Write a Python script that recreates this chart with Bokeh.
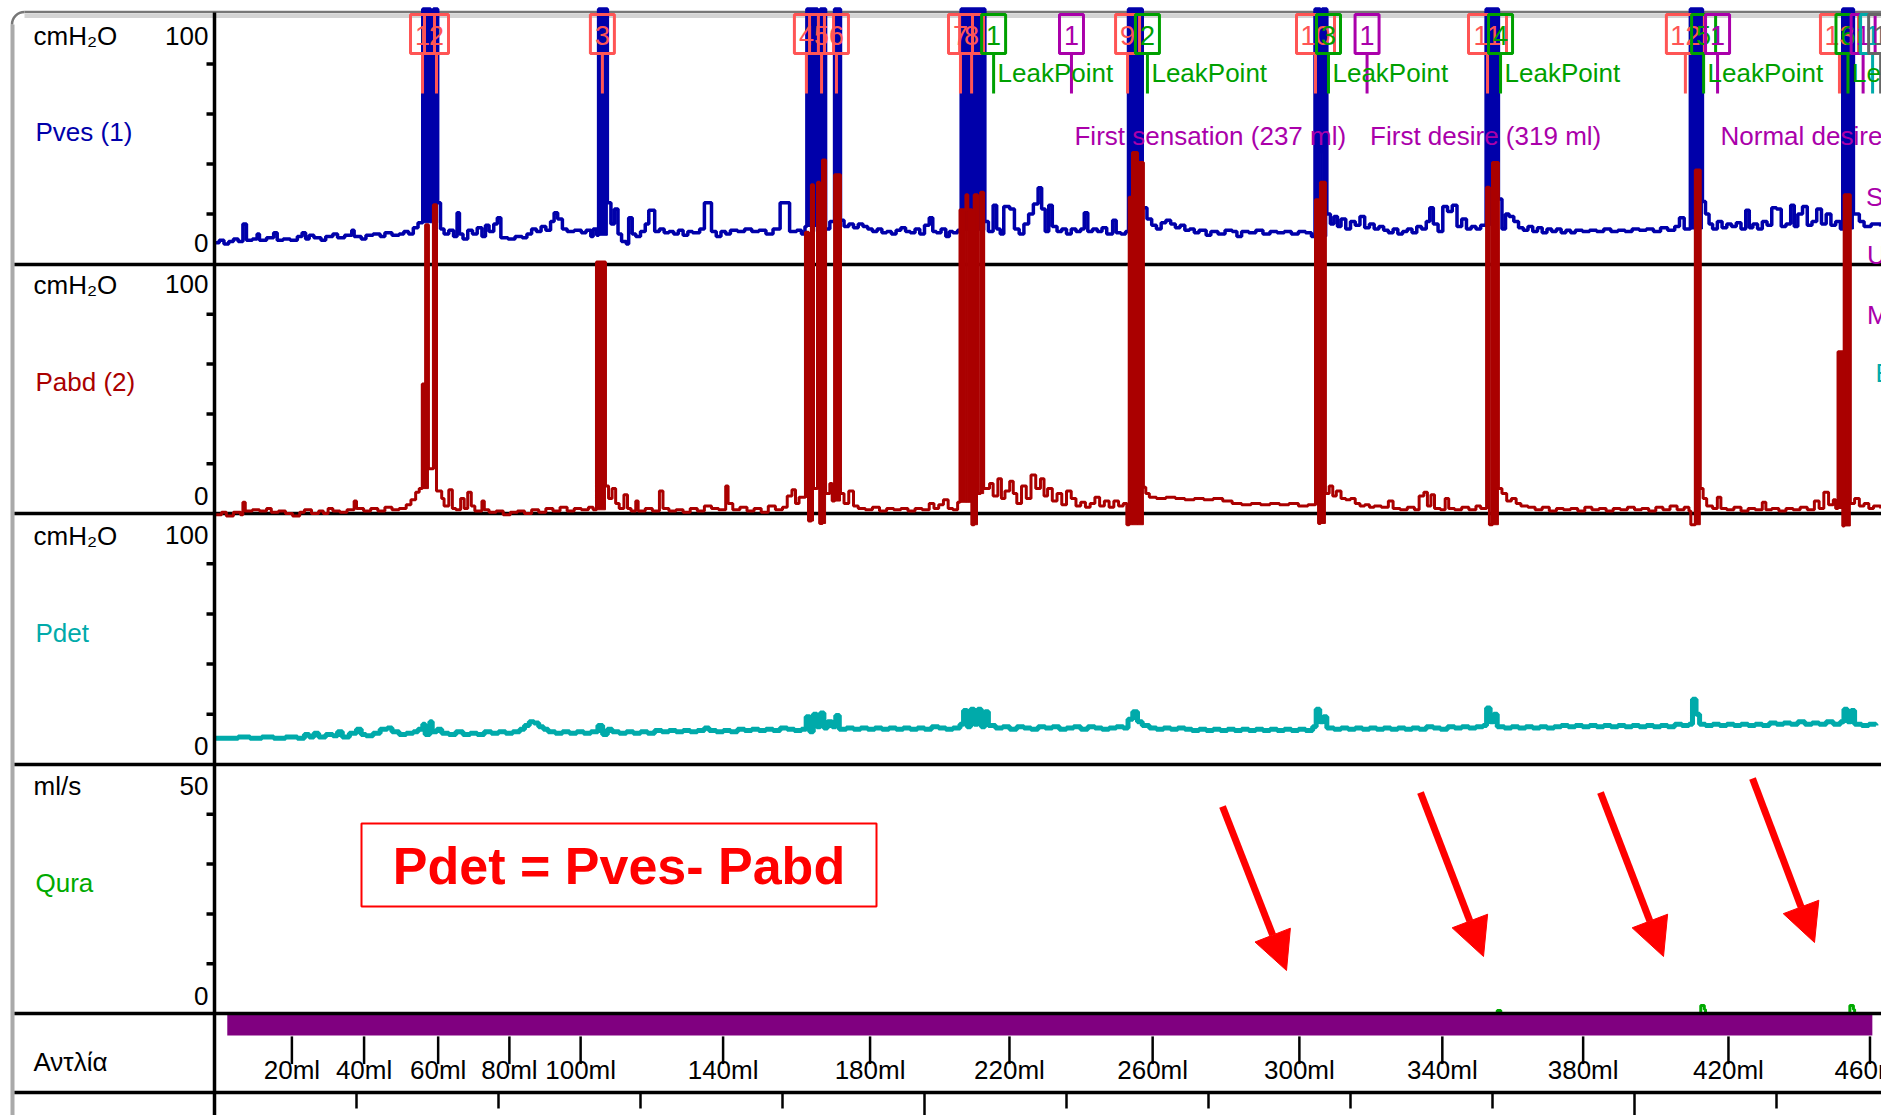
from math import pi
from bokeh.plotting import figure
from bokeh.models import Range1d, Arrow, NormalHead
from bokeh.core.properties import value
from bokeh.embed import file_html
from bokeh.resources import INLINE

# ------------------------------------------------------------------ data
# (time s, cmH2O) samples
pves_samples = [
    (0, 8.5), (2, 9.5), (4, 8), (6, 9), (8, 10), (10, 9), (12, 16), (13.5, 9.5), (16, 10), (18, 12),
    (19, 9.5), (22, 10.5), (25, 12.5), (26.5, 9.5), (29, 10), (32, 9.5), (35, 11), (37, 12.5), (38.5, 10),
    (40, 11.5), (42, 10.5), (45, 9.5), (47, 11), (50, 12), (52, 10.5), (55, 11.5), (58, 13.5), (59, 11),
    (62, 10), (64, 11.5), (67, 12), (70, 11), (72, 12.5), (75, 11.5), (78, 12), (80, 13), (82, 12),
    (84, 14.5), (86, 16.5), (88, 102), (91.3, 64), (92.5, 102), (94.3, 24.5), (95.5, 14), (97, 12),
    (99, 13.5), (101, 11), (102.5, 20.5), (103.5, 12), (105, 10), (107, 13.5), (109, 12), (111, 14.5),
    (113, 11), (114.5, 15.5), (116, 13), (118, 16), (119.5, 18.5), (121, 10.5), (124, 10), (127, 11),
    (130, 10.5), (132, 12), (134, 14), (136, 13), (138, 15), (140, 13.5), (142, 17), (143.5, 20.5),
    (145, 18), (147, 14), (149, 13), (152, 13.5), (155, 12.5), (157, 13.5), (159, 11), (160, 14),
    (161.5, 11.5), (162.3, 102), (166, 24.5), (167.5, 16), (169, 22), (170.5, 12), (172, 9), (174, 8),
    (175, 18.5), (176.5, 12), (178, 11), (180, 13), (182, 16), (183.5, 21.5), (186, 13), (188, 14),
    (190, 12.5), (192, 13), (194, 12), (196, 13.5), (198, 11.5), (200, 13), (202, 12.5), (205, 14),
    (207, 24.5), (210, 13), (212, 11), (214, 13), (216, 12), (218, 13.5), (221, 13), (224, 14), (227, 13),
    (230, 13.5), (233, 12), (236, 14), (239, 24.5), (243, 13), (246, 13.5), (248, 12), (249.5, 15),
    (250.3, 102), (254.8, 13), (256, 102), (258.2, 14), (260, 17), (262, 102), (264.5, 17.5), (266, 15),
    (268, 16), (270, 14.5), (272, 16), (274, 15), (276, 14), (278, 13), (280, 14), (282, 12.5), (284, 13),
    (286, 12), (288, 13.5), (290, 14.5), (292, 13), (294, 12.5), (296, 14), (298, 12), (300, 15.5),
    (302, 18.5), (303.5, 13), (305, 12.5), (307, 14), (309, 11), (310.5, 13), (312, 12.5), (314, 13.5),
    (315.5, 102), (325.5, 17), (327, 13), (329, 23.5), (330.5, 14), (332, 12), (333.5, 23), (336, 22),
    (338, 14), (340, 12), (342, 16), (344, 20), (346, 24), (348, 30.5), (349.5, 22), (351, 13),
    (352.5, 23.5), (354, 15), (356, 13), (358, 14), (360, 12), (362, 14), (364, 13), (366, 14),
    (367.5, 20.5), (369, 13), (371, 14), (373, 13), (375, 14.5), (377, 12), (379.5, 17.5), (381, 12.5),
    (383, 12), (385, 13), (386.2, 102), (392, 22.5), (394, 18), (396, 15.5), (398, 14), (400, 16.5),
    (402, 17.5), (404, 16), (406, 14.5), (408, 15.5), (410, 13.5), (412, 14), (414, 12.5), (416, 13.5),
    (419, 11.5), (421, 13), (424, 12), (427, 13.5), (430, 13), (432, 11), (434, 13), (437, 12.5),
    (440, 13.5), (443, 12), (446, 13), (449, 12.5), (452, 13), (455, 12), (458, 13), (461, 12.5),
    (463.5, 11), (465, 102), (467.2, 45), (468, 102), (470, 20), (471.5, 16), (473, 19), (474.5, 15),
    (476, 18), (478, 14), (480, 17), (482, 15.5), (484, 19), (486, 14.5), (488, 16), (490, 14), (492, 15),
    (494, 13.5), (496, 12.5), (498, 14), (500, 12), (502, 13), (504, 14), (506, 12.5), (508, 15),
    (510, 14), (512, 17), (513.5, 22.5), (515, 16), (517, 13), (519, 23), (521, 21), (523, 23.5),
    (525, 15), (527, 18), (529, 14), (531, 15), (533, 14), (535, 15.5), (537.3, 102), (542.5, 26),
    (544, 14), (545.5, 20), (547, 19), (549, 17), (551, 14.5), (553, 13.5), (555, 15), (557, 13),
    (559, 14.5), (561, 12.5), (563, 14), (565, 13), (567, 14), (569, 12.5), (571, 13.5), (573, 12.5),
    (575, 13.5), (578, 13), (581, 13.5), (584, 13), (587, 14), (590, 13), (593, 13.5), (596, 13),
    (599, 14), (602, 13.5), (605, 14), (608, 13), (611, 14.5), (614, 13.5), (617, 15), (619, 18.5),
    (621, 14), (623.6, 102), (628.7, 25), (630, 20), (631.5, 16), (633, 14), (635, 17), (637, 14.5),
    (639, 16), (641, 15), (643, 16.5), (645, 14), (647, 21.5), (648.5, 14.5), (650, 16), (652, 14),
    (654, 17), (656, 15.5), (658, 22.5), (660, 22), (662, 15), (664, 16), (666, 23.5), (667.5, 15),
    (669, 20), (671, 23), (673, 15.5), (675, 17), (677, 22), (679, 16), (681, 20), (683, 15.5), (685, 17),
    (687, 14), (688, 102), (692.5, 20), (695, 17), (697, 15), (700, 16), (704, 15),
]

pabd_samples = [
    (0, -0.5), (3, 0.5), (5, -1), (8, 0.5), (11, -0.5), (12, 4.5), (13, 1), (16, 1.5), (19, 1), (22, 2),
    (24, 0.5), (27, 1), (30, 0), (33, -1), (36, 0.5), (38, 1.5), (41, 0), (44, 1), (46, 0), (48, 2),
    (50, 1), (53, 0.5), (56, 1.5), (59, 5), (60, 2), (63, 1), (66, 2), (69, 1), (72, 2.5), (75, 1.5),
    (78, 2), (81, 3.5), (83, 5.5), (85, 8.5), (86.5, 10), (87.8, 52), (89.2, 116), (90.4, 18),
    (92.5, 124), (93.8, 9), (96, 6), (97, 3), (99, 9.5), (100.5, 2), (102, 1.5), (104, 6), (105.5, 2),
    (107, 8.5), (108.5, 3), (110, 1), (113, 5), (114, 1.5), (116, 0.5), (119, 1), (122, -0.5), (125, 0.5),
    (128, 1), (131, 0), (134, 1.5), (137, 0.5), (140, 2), (143, 1), (146, 2.5), (149, 1), (152, 2),
    (155, 1.5), (158, 2.5), (160, 1.5), (161.4, 101), (165.2, 11), (166.5, 6), (168, 10), (169.5, 4),
    (171, 2), (173, 7.5), (174.5, 2), (176, 1), (178, 5), (179, 1), (182, 2), (185, 1), (188, 9),
    (189.5, 2), (192, 1), (195, 1.5), (198, 0.5), (201, 2), (204, 1), (207, 3), (210, 2), (213, 1.5),
    (216, 11), (217, 4), (219, 1.5), (222, 2.5), (225, 1), (228, 2), (231, 0.5), (234, 3), (237, 1.5),
    (240, 2.5), (242, 7), (244, 9.5), (245.5, 4), (247, 6.5), (249.7, 113), (251, -3), (252.2, 132),
    (253.1, 10), (254.8, 133), (255.7, -4), (256.9, 142), (258.2, 8), (260, 12), (261, 5), (262, 136),
    (264.5, 8), (266, 4), (268, 9), (270, 3), (272, 2), (275, 1.5), (278, 2.5), (281, 1), (284, 2),
    (287, 1.5), (290, 2), (293, 1), (296, 2), (299, 1.5), (302, 4), (304, 2), (306, 3.5), (308, 5.5),
    (310, 2), (312, 1.5), (314, 4.5), (315, 122), (317.5, 128), (318.3, 122), (320, -4.5), (321, 128),
    (322.4, 8), (323.7, 129), (325, 10), (327.5, 12), (329, 7), (331, 14), (332.5, 6), (334, 9), (336, 13),
    (337.5, 8), (339, 4), (341, 11), (343, 6), (345, 15.5), (347, 10), (349, 14), (350.5, 7), (352, 10),
    (354, 5), (356, 8), (358, 3.5), (360, 9), (362, 6), (364, 3), (366, 4.5), (368, 2.5), (370, 4),
    (372, 6.5), (374, 3), (376, 5), (378, 2.5), (380, 5), (382, 3), (384, 4), (385.5, -4.5),
    (386.5, 127), (387.9, 145), (390, 141), (392.5, 10.5), (393.5, 8), (395, 6.5), (398, 6), (402, 6.5),
    (406, 6), (410, 5.5), (414, 6), (418, 5.5), (422, 6), (426, 5), (430, 4), (434, 3.5), (438, 4),
    (442, 3.5), (446, 4), (450, 3.5), (454, 4), (458, 3), (462, 3.5), (465.2, 126), (466.5, -4),
    (467.3, 133), (469.4, 8), (471, 11), (472.5, 7), (474, 9), (476, 6), (478, 5.5), (480, 6), (482, 4),
    (484, 3), (486, 3.5), (488, 2.5), (490, 3), (493, 2.5), (496, 5), (498, 2), (501, 1.5), (504, 2.5),
    (507, 1.5), (509, 7), (511, 8.5), (512.5, 3), (514, 7.5), (515.5, 2), (518, 1.5), (520, 6),
    (521.5, 2), (524, 1.5), (527, 2.5), (530, 1.5), (533, 3), (535, 2), (537.5, 131), (538.7, -4.5),
    (540, 141), (542.5, 10), (544, 8), (546, 5), (548, 6), (550, 4), (552, 3), (555, 2.5), (558, 1.5),
    (561, 2.5), (564, 1), (567, 2), (570, 1.5), (573, 2), (576, 1), (579, 2.5), (582, 1.5), (585, 2),
    (588, 1), (591, 2), (594, 1.5), (597, 2.5), (600, 1.5), (603, 2), (606, 1), (609, 2.5), (612, 1.5),
    (615, 3), (618, 1.5), (621, 2.5), (623, 1), (623.8, -4.5), (625.7, 138), (627.8, 10), (629, 6),
    (630.5, 3), (633, 2), (635, 6.5), (636.5, 2), (639, 1.5), (642, 2.5), (645, 1), (648, 2), (651, 1.5),
    (654, 4.5), (655.5, 1.5), (658, 2), (661, 1), (664, 2), (667, 1.5), (670, 2.5), (673, 1.5), (676, 5),
    (678, 2), (680, 8.5), (682, 3.5), (684, 5.5), (685, 2), (686, 65), (688, -5), (688.6, 128),
    (691.2, 4), (693, 6), (695, 3), (697, 4), (699, 2), (701, 3), (704, 2),
]

pdet_samples = [
    (0, 10.5), (5, 10.5), (10, 11), (15, 10.5), (20, 11), (25, 10.5), (30, 11), (35, 10.5), (38, 12),
    (40, 11), (42, 12.5), (44, 11), (47, 12), (50, 11.5), (52, 13), (54, 11), (57, 12.5), (60, 14),
    (62, 12), (64, 11.5), (67, 12.5), (70, 14), (73, 14.5), (75, 13), (78, 12), (81, 12.5), (84, 13),
    (86, 14), (88, 16), (89, 12), (91, 17), (92, 13), (94, 14), (96, 12.5), (99, 12), (102, 13), (105, 12),
    (108, 12.5), (111, 12), (114, 13), (117, 12.5), (120, 13), (123, 12.5), (126, 13), (129, 14),
    (131, 15.5), (133, 17), (135, 16.5), (137, 15), (139, 14), (141, 13), (144, 12.5), (147, 13),
    (150, 12.5), (153, 13), (156, 12.5), (159, 13), (162, 15.5), (164, 12), (166, 14), (168, 13),
    (171, 12.5), (174, 13), (177, 12.5), (180, 13), (183, 12.5), (186, 13.5), (189, 13), (192, 13.5),
    (195, 13), (198, 13.5), (201, 13), (204, 13.5), (207, 14.5), (209, 13.5), (212, 13), (215, 13.5),
    (218, 13), (221, 14), (224, 13.5), (227, 14), (230, 13.5), (233, 14), (236, 13.5), (239, 14.5),
    (242, 14), (245, 13.5), (248, 14), (250, 19), (251.5, 13), (253, 20), (254.5, 15), (256, 20.5),
    (257.5, 14.5), (259, 17), (261, 15), (262.5, 19.5), (264, 14), (267, 14.5), (270, 14), (273, 14.5),
    (276, 14), (279, 14.5), (282, 14), (285, 14.5), (288, 14), (291, 14.5), (294, 14), (297, 14.5),
    (300, 14), (303, 15), (306, 14.5), (309, 14), (312, 14.5), (315, 16), (316.5, 21.5), (318, 15),
    (319.5, 22), (321, 16), (322.5, 22), (324, 15), (325.5, 21), (327, 15.5), (330, 14.5), (333, 15),
    (336, 14), (339, 15), (342, 14.5), (345, 14), (348, 15), (351, 14.5), (354, 15), (357, 14),
    (360, 14.5), (363, 15), (366, 14), (369, 15), (372, 14.5), (375, 14), (378, 14.5), (381, 15),
    (384, 14.5), (386, 18), (388, 21), (390, 17), (392, 15.5), (395, 14.5), (398, 14), (401, 14.5),
    (404, 14), (407, 14.5), (410, 14), (413, 13.5), (416, 14), (419, 13.5), (422, 14), (425, 13.5),
    (428, 14), (431, 13.5), (434, 14), (437, 13.5), (440, 14), (443, 13.5), (446, 14), (449, 13.5),
    (452, 14), (455, 13.5), (458, 14), (461, 13.5), (464, 15), (465.5, 22), (467, 17), (468.5, 19),
    (470, 14.5), (473, 14), (476, 14.5), (479, 14), (482, 14.5), (485, 14), (488, 14.5), (491, 14),
    (494, 14.5), (497, 14), (500, 14.5), (503, 14), (506, 14.5), (509, 14), (512, 15), (515, 14.5),
    (518, 14), (521, 15), (524, 14.5), (527, 15), (530, 14.5), (533, 15), (536, 15.5), (537.5, 22.5),
    (539, 17), (540.5, 20), (542, 15), (545, 14.5), (548, 15), (551, 14.5), (554, 15), (557, 14.5),
    (560, 15), (563, 14.5), (566, 15), (569, 15.5), (572, 15), (575, 15.5), (578, 15), (581, 15.5),
    (584, 15), (587, 15.5), (590, 15), (593, 15.5), (596, 15), (599, 15.5), (602, 15), (605, 15.5),
    (608, 15), (611, 15.5), (614, 15), (617, 16), (620, 15.5), (623, 16), (624.5, 26), (626, 20),
    (627.5, 16), (630, 15.5), (633, 16), (636, 15.5), (639, 16), (642, 15.5), (645, 16), (648, 15.5),
    (651, 16), (654, 15.5), (657, 16.5), (660, 16), (663, 16.5), (666, 16), (669, 17), (672, 16),
    (675, 16.5), (678, 16), (681, 17), (684, 16), (687, 17), (688.5, 22), (690, 17), (691.5, 21.5),
    (693, 16), (696, 15.5), (699, 16), (702, 15.5),
]

qura_samples = [
    (0, 0), (541.5, 0), (542, 0.6), (543.5, 0), (627.5, 0), (628, 1.6), (629.5, 0.8), (630, 0),
    (690.5, 0), (691, 1.6), (692.5, 0.8), (693, 0), (704, 0),
]

pump_on = (5.4, 700.5)

volume_t = [32.7, 63.2, 94.5, 124.6, 154.7, 214.9, 277.0, 335.9, 396.4, 458.4, 518.8, 578.3, 639.7, 699.5]
volume_labels = ["20ml", "40ml", "60ml", "80ml", "100ml", "140ml", "180ml", "220ml", "260ml",
                 "300ml", "340ml", "380ml", "420ml", "460ml"]

time_minor_t = [60, 120, 180, 240, 360, 420, 480, 540, 660]
time_major_t = [0, 300, 600]

cough_t = [87.9, 93.8, 163.9, 250.1, 256.5, 262.8, 315.2, 319.9, 385.8, 465.2, 537.9, 621.5, 686.6]
cough_labels = ["1", "2", "3", "4", "5", "6", "7", "8", "9", "10", "11", "12", "13"]

leak_t = [329.2, 394.2, 470.7, 543.4, 629.2, 690.2]
leak_labels = ["1", "2", "3", "4", "5", "6"]

sens_t = [362.1, 487.0, 635.1, 696.6]
sens_labels = ["1", "1", "1", "1"]
sens_texts = ["First sensation (237 ml)", "First desire (319 ml)", "Normal desire (417 ml)",
              "Strong desire (460 ml)"]
extra_texts = ["Urgency (460 ml)", "Max. capacity (461 ml)"]
other_t = [700.6, 704.0]
other_labels = ["1", "1"]
other_text = "Emptying"

# ------------------------------------------------------------------ layout
W, H = 1881, 1115
X0_PX = 214.0
PX_PER_S = 142.0 / 60.0
T_START = -X0_PX / PX_PER_S
T_END = (W - X0_PX) / PX_PER_S

BLUE, RED, TEAL, GREEN = "#0000AA", "#AA0000", "#00AAAA", "#00AA00"
SALMON, LEAKG, PURPLE = "#FF5555", "#00A000", "#AA00AA"
FONT = value("Liberation Sans")


def vrange(p0, p1, v0, v1):
    slope = (v1 - v0) / (p0 - p1)
    return Range1d(start=v0 + (p0 - H) * slope, end=v0 + p0 * slope)


p = figure(width=W, height=H, x_range=Range1d(T_START, T_END), y_range=Range1d(H, 0),
           output_backend="svg", toolbar_location=None, min_border=0,
           x_axis_type=None, y_axis_type=None)
p.outline_line_color = None
p.background_fill_color = "white"
p.border_fill_color = "white"
p.extra_x_ranges = {"px": Range1d(0, W)}
p.extra_y_ranges = {
    "pves": vrange(263.5, 13.5, 0, 100),
    "pabd": vrange(513, 264, 0, 100),
    "pdet": vrange(764, 513, 0, 100),
    "qura": vrange(1013, 764, 0, 50),
    "pump": vrange(1092, 1013, 0, 1),
}

# window frame (gray border with rounded corner)
p.segment(x0=[24], y0=[11.5], x1=[W], y1=[11.5], x_range_name="px", line_color="#777777", line_width=2.5)
p.segment(x0=[24], y0=[15.5], x1=[W], y1=[15.5], x_range_name="px", line_color="#D4D4D4", line_width=4)
p.segment(x0=[12], y0=[24], x1=[12], y1=[H], x_range_name="px", line_color="#AAAAAA", line_width=4)
p.arc(x=[24], y=[24], radius=12.5, radius_units="screen", start_angle=pi / 2, end_angle=pi,
      x_range_name="px", line_color="#777777", line_width=2.5)


def cols(samples):
    return [s[0] for s in samples], [s[1] for s in samples]


# flow trace (mostly hidden by the pump bar)
t, v = cols(qura_samples)
p.step(t, v, mode="after", y_range_name="qura", line_color=GREEN, line_width=3)

# pump bar + volume marks
p.quad(left=[pump_on[0]], right=[pump_on[1]], bottom=[0.72], top=[1.0], y_range_name="pump",
       fill_color="#800080", line_color=None)
n = len(volume_t)
p.segment(x0=volume_t, y0=[0.71] * n, x1=volume_t, y1=[0.36] * n, y_range_name="pump",
          line_color="black", line_width=2.5)
p.text(x=volume_t, y=[0.29] * n, text=volume_labels, y_range_name="pump", text_font=FONT,
       text_font_size="26px", text_align="center", text_baseline="middle", text_color="black")

# panel separators
sep_y = [264, 513, 764, 1013, 1092]
p.segment(x0=[14] * 5, y0=sep_y, x1=[W] * 5, y1=sep_y, x_range_name="px", line_color="black", line_width=3.5)

# time ticks below the bottom line (one per minute, long every 5 minutes)
m = len(time_minor_t)
p.segment(x0=time_minor_t, y0=[1092] * m, x1=time_minor_t, y1=[1108] * m, line_color="black", line_width=2.5)
m = len(time_major_t)
p.segment(x0=time_major_t, y0=[1092] * m, x1=time_major_t, y1=[H] * m, line_color="black", line_width=2.5)


# pressure traces; cough spikes are drawn filled like the dense original trace
def trace(samples, rng, color, width, thr):
    t, v = cols(samples)
    left, right, bottom, top = [], [], [], []
    base = v[0]
    for i in range(len(v) - 1):
        if v[i] > thr:
            left.append(t[i]); right.append(t[i + 1]); bottom.append(base); top.append(v[i])
        else:
            base = v[i]
    p.quad(left=left, right=right, bottom=bottom, top=top, y_range_name=rng,
           fill_color=color, line_color=color, line_width=1)
    p.step(t, v, mode="after", y_range_name=rng, line_color=color, line_width=width)


trace(pves_samples, "pves", BLUE, 3.5, 40)
trace(pabd_samples, "pabd", RED, 3, 40)
t, v = cols(pdet_samples)
p.step(t, v, mode="after", y_range_name="pdet", line_color=TEAL, line_width=5)


# event markers (boxes at the top)
def markers(ts, labels, color):
    widths = [24 if len(s) == 1 else 38 for s in labels]
    k = len(ts)
    p.segment(x0=ts, y0=[53] * k, x1=ts, y1=[93] * k, line_color=color, line_width=3)
    p.rect(x=ts, y=[33.5] * k, width=widths, height=[39] * k, width_units="screen",
           fill_alpha=0, line_color=color, line_width=3)
    p.text(x=ts, y=[35] * k, text=labels, text_font=FONT, text_font_size="27px",
           text_align="center", text_baseline="middle", text_color=color)


markers(cough_t, cough_labels, SALMON)
markers(leak_t, leak_labels, LEAKG)
markers(sens_t, sens_labels, PURPLE)
markers(other_t[:1], other_labels[:1], TEAL)
markers(other_t[1:], other_labels[1:], "#666666")

p.text(x=leak_t, y=[72] * len(leak_t), text=["LeakPoint"] * len(leak_t), x_offset=4,
       text_font=FONT, text_font_size="26px", text_align="left", text_baseline="middle",
       text_color=LEAKG)
p.text(x=sens_t, y=[135, 135, 135, 196], text=sens_texts, x_offset=3,
       text_font=FONT, text_font_size="26px", text_align="left", text_baseline="middle",
       text_color=PURPLE)
p.text(x=[sens_t[-1]] * 2, y=[254, 314], text=extra_texts, x_offset=4,
       text_font=FONT, text_font_size="26px", text_align="left", text_baseline="middle",
       text_color=PURPLE)
p.text(x=[other_t[0]], y=[372], text=[other_text], x_offset=3,
       text_font=FONT, text_font_size="26px", text_align="left", text_baseline="middle",
       text_color=TEAL)

# vertical axis line and y ticks
p.segment(x0=[0], y0=[12], x1=[0], y1=[H], line_color="black", line_width=3.5)
for name, ticks in [("pves", [20, 40, 60, 80]), ("pabd", [20, 40, 60, 80]),
                    ("pdet", [20, 40, 60, 80]), ("qura", [10, 20, 30, 40])]:
    p.segment(x0=[206] * 4, y0=ticks, x1=[214] * 4, y1=ticks, x_range_name="px",
              y_range_name=name, line_color="black", line_width=3.5)

# left labels
unit_txt = ["cmH\u2082O", "cmH\u2082O", "cmH\u2082O", "ml/s", "\u0391\u03bd\u03c4\u03bb\u03af\u03b1"]
unit_y = [35, 284, 535, 785, 1061]
p.text(x=[33] * 5, y=unit_y, text=unit_txt, x_range_name="px", text_font=FONT, text_font_size="26px",
       text_align="left", text_baseline="middle", text_color="black")
name_txt = ["Pves (1)", "Pabd (2)", "Pdet", "Qura"]
name_y = [131, 381, 632, 882]
p.text(x=[35] * 4, y=name_y, text=name_txt, x_range_name="px", text_font=FONT, text_font_size="26px",
       text_align="left", text_baseline="middle", text_color=[BLUE, RED, TEAL, GREEN])
lim_txt = ["100", "0", "100", "0", "100", "0", "50", "0"]
lim_y = [35, 242, 283, 495, 534, 745, 785, 995]
p.text(x=[208] * 8, y=lim_y, text=lim_txt, x_range_name="px", text_font=FONT, text_font_size="26px",
       text_align="right", text_baseline="middle", text_color="black")

# formula box
p.quad(left=[361], right=[876], top=[823], bottom=[906], x_range_name="px",
       fill_color="white", line_color="#FF0000", line_width=2)
p.text(x=[618.5], y=[865], text=["Pdet = Pves- Pabd"], x_range_name="px", text_font=FONT,
       text_font_size="52px", text_font_style="bold", text_align="center", text_baseline="middle",
       text_color="#FF0000")

# red arrows (pixel positions of annotation)
arrows = [((1222, 806), (1286, 970)), ((1420, 792), (1483, 956)),
          ((1600, 792), (1663, 956)), ((1752, 778), (1814, 942))]
for (xs, ys), (xe, ye) in arrows:
    p.add_layout(Arrow(end=NormalHead(size=38, fill_color="#FF0000", line_color="#FF0000", line_width=1),
                       x_start=xs, y_start=ys, x_end=xe, y_end=ye, x_range_name="px",
                       line_color="#FF0000", line_width=7))

open("out.html", "w").write(file_html(p, INLINE))
